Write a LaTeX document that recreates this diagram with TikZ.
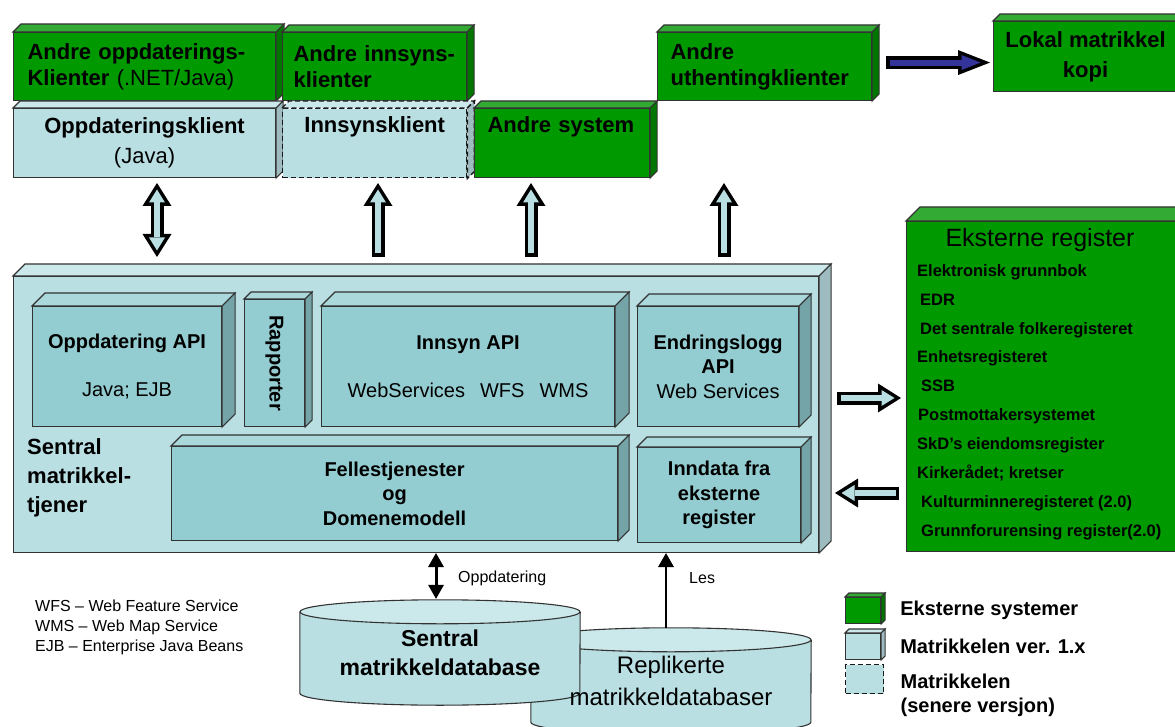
\documentclass[tikz,border=0pt]{standalone}
\usepackage{fontspec}
\setmainfont{Liberation Sans}
\usepackage{graphicx}
\usetikzlibrary{arrows.meta,positioning,backgrounds}

\definecolor{extgreen}{RGB}{0,153,0}
\definecolor{extgreentop}{RGB}{51,170,51}
\definecolor{extgreenside}{RGB}{0,118,0}
\definecolor{matblue}{RGB}{185,223,227}
\definecolor{matbluetop}{RGB}{203,232,235}
\definecolor{matblueside}{RGB}{158,188,192}
\definecolor{apiblue}{RGB}{148,205,209}
\definecolor{apibluetop}{RGB}{170,216,219}
\definecolor{apiblueside}{RGB}{117,164,168}
\definecolor{navyfill}{RGB}{51,51,153}

% top and right faces of a box node: [options]{node}{depth}{top colour}{side colour}
\newcommand{\cubesides}[5][]{%
  \filldraw[fill=#4, draw=black!80, line width=1.1pt, #1] (#2.north west) -- ++(#3,-#3) -- ([shift={(#3,-#3)}]#2.north east) -- (#2.north east) -- cycle;
  \filldraw[fill=#5, draw=black!80, line width=1.1pt, #1] (#2.north east) -- ++(#3,-#3) -- ([shift={(#3,-#3)}]#2.south east) -- (#2.south east) -- cycle;
}

\begin{document}
\begin{tikzpicture}[x=1pt, y=-1pt,
    greenbox/.style={
        draw=black!80,
        line width=1.1pt,
        fill=extgreen,
        inner sep=0pt,
        font=\fontsize{22}{26}\selectfont\bfseries
    },
    bluebox/.style={
        draw=black!80,
        line width=1.1pt,
        fill=matblue,
        inner sep=0pt,
        font=\fontsize{22}{26}\selectfont\bfseries
    },
    laterbox/.style={
        draw=black!90,
        line width=1.4pt,
        dash pattern=on 5pt off 3pt
    },
    apibox/.style={
        draw=black!80,
        line width=1.1pt,
        fill=apiblue,
        inner sep=0pt,
        align=center,
        font=\fontsize{20}{24.5}\selectfont\bfseries
    },
    regitem/.style={
        anchor=west,
        inner sep=0pt,
        text height=12pt,
        text depth=3.5pt,
        font=\fontsize{16.5}{20}\selectfont\bfseries
    },
    legtext/.style={
        inner sep=0pt,
        align=left,
        font=\fontsize{20}{24}\selectfont\bfseries
    },
    smalltext/.style={
        inner sep=0pt,
        font=\fontsize{16}{20}\selectfont
    },
    blockout/.style={
        line width=13pt,
        >={Triangle[length=23pt,width=29pt,line width=0pt]}
    },
    blockin/.style={
        line width=6pt,
        color=matblue,
        >={Triangle[length=13pt,width=16pt,line width=0pt]}
    },
    navyout/.style={
        line width=13pt,
        ->,
        >={Triangle[length=32pt,width=25pt,line width=0pt]}
    },
    navyin/.style={
        line width=6pt,
        color=navyfill,
        ->,
        shorten <=3.5pt,
        shorten >=9.5pt,
        >={Triangle[length=19pt,width=15pt,line width=0pt]}
    },
    solidarrow/.style={
        line width=3pt,
        >={Triangle[length=14pt,width=16pt,line width=0pt]}
    }
]
\useasboundingbox (0,0) rectangle (1175,727);
\clip (0,0) rectangle (1175,727);

% top row
\node[greenbox, minimum width=262pt, minimum height=68pt, anchor=north west, align=left, text width=234pt, inner xsep=14pt] (andreoppd) at (13,32) {Andre oppdaterings-\\Klienter {\mdseries(.NET/Java)}};
\cubesides{andreoppd}{8}{extgreentop}{extgreenside}
\node[greenbox, minimum width=184pt, minimum height=68pt, anchor=north west, align=left, text width=162pt, inner xsep=11pt] (andreinnsyn) at (282,32) {Andre innsyns-\\klienter};
\cubesides{andreinnsyn}{7}{extgreentop}{extgreenside}
\node[greenbox, minimum width=214pt, minimum height=68pt, anchor=north west, align=left, text width=188pt, inner xsep=13pt] (uthenting) at (657,32) {Andre\\uthentingklienter};
\cubesides{uthenting}{7}{extgreentop}{extgreenside}
\node[greenbox, minimum width=184pt, minimum height=70pt, anchor=north west, align=center] (lokal) at (993,21) {Lokal matrikkel\\[4pt]kopi};
\cubesides{lokal}{7}{extgreentop}{extgreenside}

\node[bluebox, minimum width=262pt, minimum height=69pt, anchor=north west, align=center] (oppdklient) at (13,108) {Oppdateringsklient\\[4pt]{\mdseries(Java)}};
\cubesides{oppdklient}{7}{matbluetop}{matblueside}
\node[bluebox, laterbox, minimum width=184pt, minimum height=69pt, anchor=north west, align=center] (innsynklient) at (282,108) {Innsynsklient\\[4pt]\strut};
\cubesides[laterbox]{innsynklient}{7}{matbluetop}{matblueside}
\node[greenbox, minimum width=175pt, minimum height=69pt, anchor=north west, align=left, text width=149pt, inner xsep=13pt] (andresystem) at (474,108) {Andre system\\[4pt]\strut};
\cubesides{andresystem}{7}{extgreentop}{extgreenside}

% central server
\node[bluebox, minimum width=805pt, minimum height=276pt, anchor=north west] (tjener) at (13,276) {};
\cubesides{tjener}{12}{matbluetop}{matblueside}
\node[anchor=west, align=left, inner sep=0pt, font=\fontsize{22}{29}\selectfont\bfseries] (tjenerlabel) at (27,478) {Sentral\\matrikkel-\\tjener};

\node[apibox, minimum width=189pt, minimum height=120pt, anchor=north west] (oppdapi) at (32,306) {Oppdatering API\\[24pt]{\mdseries Java; EJB}};
\cubesides{oppdapi}{13}{apibluetop}{apiblueside}
\node[apibox, minimum width=60pt, minimum height=127pt, anchor=north west] (rapporter) at (244,299) {\rotatebox{-90}{Rapporter}};
\cubesides{rapporter}{7}{apibluetop}{apiblueside}
\node[apibox, minimum width=293pt, minimum height=120pt, anchor=north west] (innsynapi) at (321,306) {Innsyn API\\[24pt]{\mdseries WebServices\hspace{15pt}WFS\hspace{15pt}WMS}};
\cubesides{innsynapi}{14}{apibluetop}{apiblueside}
\node[apibox, minimum width=161pt, minimum height=120pt, anchor=north west] (endringapi) at (637,306) {Endringslogg\\API\\{\mdseries Web Services}};
\cubesides{endringapi}{12}{apibluetop}{apiblueside}
\node[apibox, minimum width=446pt, minimum height=94pt, anchor=north west] (felles) at (171,446) {Fellestjenester\\og\\Domenemodell};
\cubesides{felles}{11}{apibluetop}{apiblueside}
\node[apibox, minimum width=163pt, minimum height=95pt, anchor=north west] (inndata) at (637,447) {Inndata fra\\eksterne\\register};
\cubesides{inndata}{10}{apibluetop}{apiblueside}

% external registers
\node[greenbox, minimum width=272pt, minimum height=330pt, anchor=north west] (eksterne) at (906,221) {};
\cubesides{eksterne}{14}{extgreentop}{extgreenside}
\node[inner sep=0pt, font=\fontsize{25}{30}\selectfont] (eksttitle) at (1040,240) {Eksterne register};
\foreach \x/\t [count=\i] in {917/{Elektronisk grunnbok}, 920/{EDR}, 920/{Det sentrale folkeregisteret}, 917/{Enhetsregisteret}, 921/{SSB}, 918/{Postmottakersystemet}, 917/{SkD’s eiendomsregister}, 917/{Kirkerådet; kretser}, 921/{Kulturminneregisteret (2.0)}, 921/{Grunnforurensing register(2.0)}}
    \node[regitem] (reg\i) at (\x,243.1+\i*28.9) {\t};

% databases
\node[inner sep=0pt, minimum width=280pt, minimum height=82pt, align=center, font=\fontsize{24}{32}\selectfont] (replikdb) at (671,681) {Replikerte\\matrikkeldatabaser};
\node[inner sep=0pt, minimum width=280pt, minimum height=81pt, align=center, font=\fontsize{23}{29}\selectfont\bfseries] (sentraldb) at (440,652.5) {Sentral\\matrikkeldatabase};
\begin{pgfonlayer}{background}
    \filldraw[fill=matblue, draw=black!80, line width=1.1pt] (replikdb.north west) -- (replikdb.south west) arc[start angle=180, end angle=360, x radius=140pt, y radius=12pt] -- (replikdb.north east);
    \filldraw[fill=matbluetop, draw=black!80, line width=1.1pt] (replikdb.north) ellipse[x radius=140pt, y radius=12pt];
    \filldraw[fill=matblue, draw=black!80, line width=1.1pt] (sentraldb.north west) -- (sentraldb.south west) arc[start angle=180, end angle=360, x radius=140pt, y radius=12pt] -- (sentraldb.north east);
    \filldraw[fill=matbluetop, draw=black!80, line width=1.1pt] (sentraldb.north) ellipse[x radius=140pt, y radius=12pt];
\end{pgfonlayer}

% block arrows
\coordinate (oppdtop) at (157,183);
\coordinate (oppdbot) at (157,257);
\coordinate (innsyntop) at (378,183);
\coordinate (innsynbot) at (378,257);
\coordinate (systemtop) at (531,183);
\coordinate (systembot) at (531,257);
\coordinate (uthenttop) at (724,183);
\coordinate (uthentbot) at (724,257);
\coordinate (utleft) at (837,398);
\coordinate (utright) at (901,398);
\coordinate (innright) at (899,493);
\coordinate (innleft) at (835,493);

\draw[blockout, <->] (oppdtop) -- (oppdbot);
\draw[blockin, <->, shorten <=6.5pt, shorten >=6.5pt] (oppdtop) -- (oppdbot);
\foreach \a/\b in {innsynbot/innsyntop, systembot/systemtop, uthentbot/uthenttop, utleft/utright, innright/innleft} {
    \draw[blockout, ->] (\a) -- (\b);
    \draw[blockin, ->, shorten <=3.5pt, shorten >=6.5pt] (\a) -- (\b);
}
\draw[navyout] ([xshift=14pt,yshift=4pt]uthenting.east) -- ([xshift=-3pt,yshift=4pt]uthenting.east -| lokal.west);
\draw[navyin] ([xshift=14pt,yshift=4pt]uthenting.east) -- ([xshift=-3pt,yshift=4pt]uthenting.east -| lokal.west);

% database access
\draw[solidarrow, <->] ([xshift=-4pt]sentraldb.north |- tjener.south) -- ([xshift=-4pt,yshift=13pt]sentraldb.north);
\draw[solidarrow, ->, line width=2.5pt] ([xshift=-5pt,yshift=12pt]replikdb.north) -- ([xshift=-5pt]replikdb.north |- tjener.south);
\node[smalltext, anchor=west] (oppdlabel) at (458,578) {Oppdatering};
\node[smalltext, anchor=west] (leslabel) at (689,578) {Les};

% abbreviations
\node[smalltext, anchor=west, align=left] (forkort) at (35,627) {WFS – Web Feature Service\\WMS – Web Map Service\\EJB – Enterprise Java Beans};

% legend
\node[greenbox, minimum width=35pt, minimum height=26pt, anchor=north west] (leggreen) at (845,597) {};
\cubesides{leggreen}{4}{extgreentop}{extgreenside}
\node[bluebox, minimum width=35pt, minimum height=26pt, anchor=north west] (legblue) at (845,633) {};
\cubesides{legblue}{4}{matbluetop}{matblueside}
\node[bluebox, laterbox, minimum width=38pt, minimum height=29pt, anchor=north west] (legdash) at (845,664) {};
\node[legtext, right=19pt of leggreen] (legtxt1) {Eksterne systemer};
\node[legtext, right=19pt of legblue] (legtxt2) {Matrikkelen ver. 1.x};
\node[legtext, anchor=north west] (legtxt3) at ([xshift=16pt,yshift=-10pt]legdash.north east) {Matrikkelen\\(senere versjon)};
\end{tikzpicture}
\end{document}
